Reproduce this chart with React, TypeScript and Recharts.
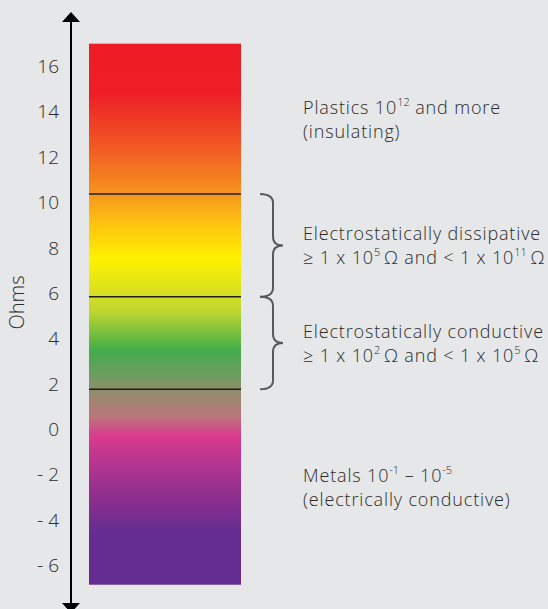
import { ComposedChart, Bar, XAxis, YAxis, ReferenceArea } from 'recharts'

const yTicks = [16, 14, 12, 10, 8, 6, 4, 2, 0, -2, -4, -6]
const barRange: [number, number] = [-6.85, 17]
const boundaries = [10.37, 5.84, 1.77]

const bars = [{ name: 'Ohms', range: barRange }]

const gradientStops = [
  { value: 17, color: '#ed1c24' },
  { value: 14.8, color: '#ed1f26' },
  { value: 12.3, color: '#f15d23' },
  { value: 10.5, color: '#f6901e' },
  { value: 10.1, color: '#f9a01b' },
  { value: 9.0, color: '#fdc40f' },
  { value: 7.5, color: '#fff200' },
  { value: 5.9, color: '#d5de23' },
  { value: 5.2, color: '#bfd62f' },
  { value: 3.5, color: '#42ad4a' },
  { value: 2.4, color: '#6e9c60' },
  { value: 1.6, color: '#958a6e' },
  { value: 0.6, color: '#b8787b' },
  { value: -0.3, color: '#da3b8d' },
  { value: -1.6, color: '#b2358f' },
  { value: -3.1, color: '#8b2e8e' },
  { value: -4.5, color: '#662d91' },
  { value: -6.85, color: '#662d91' },
]

const zones = [
  { from: 10.37, to: 17, ppl: '', brace: false, lines: ['Plastics 10^12 and more', '(insulating)'] },
  { from: 5.84, to: 10.37, ppl: 'PPL 6', brace: true, lines: ['Electrostatically dissipative', '≥ 1 x 10^5\u2009Ω and < 1 x 10^11\u2009Ω'] },
  { from: 1.77, to: 5.84, ppl: 'PPL 3', brace: true, lines: ['Electrostatically conductive', '≥ 1 x 10^2\u2009Ω and < 1 x 10^5\u2009Ω'] },
  { from: -6.85, to: 1.77, ppl: '', brace: false, lines: ['Metals 10^-1 – 10^-5', '(electrically conductive)'] },
]

const FONT = '"Open Sans", sans-serif'
const TEXT = '#2b2b2b'

// "10^12 rest" -> base text + superscript tspans
function RichLine({ text, x, y }: { text: string; x: number; y: number }) {
  const parts = text.split(/\^(-?\d+)/)
  return (
    <text x={x} y={y} dominantBaseline="central" fill={TEXT} fontFamily={FONT} fontWeight={300}
      fontSize={18} letterSpacing={0.85}>
      {parts.map((p, i) =>
        i % 2 === 1 ? (
          <tspan key={i} dy={-6} fontSize={11} letterSpacing={0}>{p}</tspan>
        ) : (
          <tspan key={i} dy={i === 0 ? 0 : 6}>{p}</tspan>
        )
      )}
    </text>
  )
}

function ZoneLabel({ viewBox, zone }: any) {
  if (!viewBox) return null
  const { x, y, width, height } = viewBox
  const right = x + width
  const cy = y + height / 2
  const xs = right + 14
  const xt = right + 24
  const r = 9
  const y1 = y
  const y2 = y + height
  const brace = `M ${right + 1} ${y1} Q ${xs} ${y1} ${xs} ${y1 + r} L ${xs} ${cy - r} Q ${xs} ${cy} ${xt} ${cy} Q ${xs} ${cy} ${xs} ${cy + r} L ${xs} ${y2 - r} Q ${xs} ${y2} ${right + 1} ${y2}`
  return (
    <g>
      {zone.brace && <path d={brace} fill="none" stroke="#58595b" strokeWidth={2} />}
      {zone.ppl && (
        <text x={x + width / 2} y={cy} textAnchor="middle" dominantBaseline="central"
          fontFamily={FONT} fontWeight={700} fontSize={17} fill="#111">
          {zone.ppl}
        </text>
      )}
      {zone.lines.map((l: string, i: number) => (
        <RichLine key={i} text={l} x={right + 44} y={cy + (i - (zone.lines.length - 1) / 2) * 24} />
      ))}
    </g>
  )
}

function GradientBar(props: any) {
  const { x, y, width, height } = props
  const span = barRange[1] - barRange[0]
  return (
    <g>
      <rect x={x} y={y} width={width} height={height} fill="url(#ohmGradient)" />
      {boundaries.map((b) => {
        const ly = y + ((barRange[1] - b) / span) * height
        return <line key={b} x1={x} x2={x + width} y1={ly} y2={ly} stroke="#1e1e1e" strokeWidth={1.5} />
      })}
    </g>
  )
}

function AxisDecor({ viewBox }: any) {
  if (!viewBox) return null
  const { x, y, width, height } = viewBox
  const ax = x + width
  const bottom = y + height
  return (
    <g>
      <polygon points={`${ax - 9},${y + 1} ${ax + 9},${y + 1} ${ax},${y - 9}`} fill="#000" />
      <polygon points={`${ax - 9},${bottom - 1} ${ax + 9},${bottom - 1} ${ax},${bottom + 9}`} fill="#000" />
      <text x={x + 16} y={y + height / 2 - 10} transform={`rotate(-90 ${x + 16} ${y + height / 2 - 10})`}
        textAnchor="middle" dominantBaseline="central" fontFamily={FONT} fontWeight={300} fontSize={20} fill={TEXT}>
        Ohms
      </text>
    </g>
  )
}

const tickFormat = (v: number) => (v < 0 ? `- ${Math.abs(v)}` : `${v}`)

export default function App() {
  const span = barRange[1] - barRange[0]
  return (
    <div style={{ position: 'absolute', left: 0, top: 0, width: 548, height: 609, overflow: 'hidden', background: '#e6e7e8' }}>
      <style>{'body{margin:0;overflow:hidden}'}</style>
      <ComposedChart width={548} height={625} data={bars} margin={{ top: 21, right: 289, bottom: 21, left: 0 }}>
        <defs>
          <linearGradient id="ohmGradient" x1="0" y1="0" x2="0" y2="1">
            {gradientStops.map((s, i) => (
              <stop key={i} offset={(barRange[1] - s.value) / span} stopColor={s.color} />
            ))}
          </linearGradient>
        </defs>
        <XAxis dataKey="name" type="category" hide />
        <YAxis
          type="number"
          domain={[-7.7, 18]}
          ticks={yTicks}
          width={71}
          tickFormatter={tickFormat}
          tick={{ fill: TEXT, fontSize: 19, fontFamily: FONT, fontWeight: 300 }}
          tickLine={false}
          tickSize={0}
          tickMargin={12}
          axisLine={{ stroke: '#000', strokeWidth: 2 }}
          label={<AxisDecor />}
        />
        {zones.map((z, i) => (
          <ReferenceArea key={i} y1={z.from} y2={z.to} fill="none" fillOpacity={0} stroke="none"
            ifOverflow="visible" label={<ZoneLabel zone={z} />} />
        ))}
        <Bar dataKey="range" barSize={152} shape={<GradientBar />} isAnimationActive={false} />
      </ComposedChart>
    </div>
  )
}
